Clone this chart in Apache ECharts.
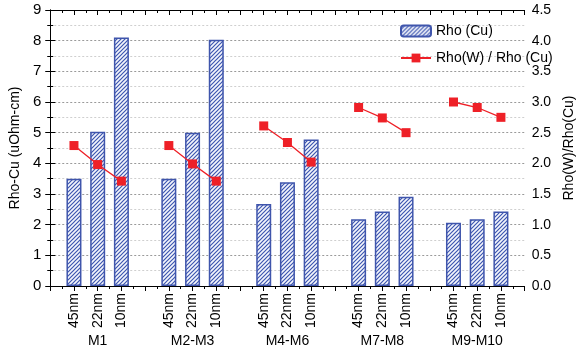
<!DOCTYPE html>
<html>
<head>
<meta charset="utf-8">
<script src="https://cdn.jsdelivr.net/npm/echarts@6/dist/echarts.min.js"></script>
<style>
  html, body { margin: 0; padding: 0; background: #fff; }
  #chart { width: 584px; height: 352px; }
</style>
</head>
<body>
<div id="chart"></div>
<script>
const groups = ["M1", "M2-M3", "M4-M6", "M7-M8", "M9-M10"];
const nodes = ["45nm", "22nm", "10nm"];
const rhoCu = [
  [3.5, 5.03, 8.1],
  [3.5, 5.0, 8.03],
  [2.67, 3.38, 4.78],
  [2.18, 2.43, 2.91],
  [2.06, 2.18, 2.43],
];
const rhoRatio = [
  [2.29, 1.98, 1.71],
  [2.29, 1.99, 1.71],
  [2.61, 2.34, 2.02],
  [2.91, 2.74, 2.5],
  [3.0, 2.91, 2.75],
];
const leftTicks = [0, 9, 1];
const rightTicks = [0, 4.5, 0.5];

// slot positions on x: each group takes 3 slots + 1 gap
const slotOf = (g, n) => g * 4 + n + 1;
const labelAt = {};
const groupAt = {};
groups.forEach((g, gi) => {
  nodes.forEach((n, ni) => {
    labelAt[slotOf(gi, ni)] = n;
  });
  groupAt[slotOf(gi, 1)] = g;
});

const barData = [];
const lineData = [];
groups.forEach((g, gi) => {
  nodes.forEach((n, ni) => {
    barData.push([slotOf(gi, ni), rhoCu[gi][ni]]);
    lineData.push([slotOf(gi, ni), rhoRatio[gi][ni]]);
  });
  lineData.push([slotOf(gi, 3), "-"]);
});

// hatch pattern
const hatch = document.createElement("canvas");
hatch.width = 4;
hatch.height = 4;
const hc = hatch.getContext("2d");
hc.fillStyle = "#f4f6fc";
hc.fillRect(0, 0, 4, 4);
hc.strokeStyle = "#3d56b0";
hc.lineWidth = 1.2;
hc.beginPath();
hc.moveTo(0, 4); hc.lineTo(4, 0);
hc.moveTo(-1, 1); hc.lineTo(1, -1);
hc.moveTo(3, 5); hc.lineTo(5, 3);
hc.stroke();

const font = "Liberation Sans";
const chart = echarts.init(document.getElementById("chart"));
chart.setOption({
  animation: false,
  textStyle: { fontFamily: font },
  grid: { left: 46, right: 41, top: 10, bottom: 66 },
  legend: {
    orient: "vertical",
    left: 395,
    top: 19,
    itemWidth: 30,
    itemHeight: 11,
    itemGap: 13,
    textStyle: { fontFamily: font, fontSize: 14, color: "#000" },
    data: ["Rho (Cu)", "Rho(W) / Rho (Cu)"],
  },
  xAxis: [
    {
      type: "value",
      min: 0,
      max: 20,
      interval: 1,
      position: "bottom",
      axisLine: { lineStyle: { color: "#000", width: 1 } },
      axisTick: { show: true, length: 5, lineStyle: { color: "#000" } },
      minorTick: { show: true, splitNumber: 2, length: 3, lineStyle: { color: "#000" } },
      splitLine: { show: false },
      axisLabel: {
        rotate: 90,
        fontSize: 14,
        color: "#000",
        margin: 7,
        formatter: (v) => labelAt[v] || "",
      },
    },
    {
      type: "value",
      min: 0,
      max: 20,
      interval: 1,
      position: "bottom",
      axisLine: { show: false },
      axisTick: { show: false },
      splitLine: { show: false },
      axisLabel: {
        fontSize: 14,
        color: "#000",
        margin: 48,
        formatter: (v) => groupAt[v] || "",
      },
    },
    {
      type: "value",
      min: 0,
      max: 20,
      interval: 1,
      position: "top",
      axisLine: { lineStyle: { color: "#000", width: 1 } },
      axisTick: { show: true, inside: true, length: 5, lineStyle: { color: "#000" } },
      minorTick: { show: true, splitNumber: 2, length: 3, lineStyle: { color: "#000" } },
      splitLine: { show: false },
      axisLabel: { show: false },
    },
  ],
  yAxis: [
    {
      type: "value",
      min: leftTicks[0],
      max: leftTicks[1],
      interval: leftTicks[2],
      position: "left",
      name: "Rho-Cu (uOhm-cm)",
      nameLocation: "middle",
      nameGap: 25,
      nameTextStyle: { fontFamily: font, fontSize: 14, color: "#000" },
      axisLine: { show: true, lineStyle: { color: "#000", width: 1 } },
      axisTick: { show: true, length: 5, lineStyle: { color: "#000" } },
      minorTick: { show: true, splitNumber: 2, length: 3, lineStyle: { color: "#000" } },
      axisLabel: { fontSize: 15, color: "#000", margin: 9 },
      splitLine: { show: true, lineStyle: { color: "#9a9a9a", type: [2, 2] } },
      minorSplitLine: { show: true, lineStyle: { color: "#cfcfcf", type: [2, 2] } },
    },
    {
      type: "value",
      min: rightTicks[0],
      max: rightTicks[1],
      interval: rightTicks[2],
      position: "right",
      name: "Rho(W)/Rho(Cu)",
      nameLocation: "middle",
      nameRotate: 90,
      nameGap: 35,
      nameTextStyle: { fontFamily: font, fontSize: 14, color: "#000" },
      axisLine: { show: true, lineStyle: { color: "#000", width: 1 } },
      axisTick: { show: true, length: 5, lineStyle: { color: "#000" } },
      minorTick: { show: true, splitNumber: 2, length: 3, lineStyle: { color: "#000" } },
      axisLabel: { fontSize: 14, color: "#000", margin: 7, formatter: (v) => v.toFixed(1) },
      splitLine: { show: false },
    },
  ],
  series: [
    {
      name: "Rho (Cu)",
      type: "bar",
      xAxisIndex: 0,
      yAxisIndex: 0,
      barWidth: 15,
      data: barData,
      itemStyle: {
        color: { image: hatch, repeat: "repeat" },
        borderColor: "#3f55ac",
        borderWidth: 1.5,
      },
    },
    {
      name: "Rho(W) / Rho (Cu)",
      type: "line",
      xAxisIndex: 0,
      yAxisIndex: 1,
      data: lineData,
      connectNulls: false,
      symbol: "rect",
      symbolSize: 9,
      lineStyle: { color: "#ee2027", width: 1.3 },
      itemStyle: { color: "#ee2027" },
      z: 5,
    },
  ],
});
</script>
</body>
</html>
